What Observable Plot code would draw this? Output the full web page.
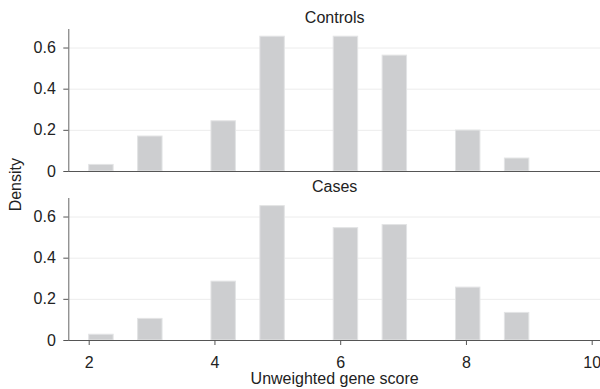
<!DOCTYPE html>
<html>
<head>
<meta charset="utf-8">
<script src="https://cdn.jsdelivr.net/npm/d3@7"></script>
<script src="https://cdn.jsdelivr.net/npm/@observablehq/plot@0.6"></script>
<style>
  html, body { margin: 0; padding: 0; background: #fff; }
  #chart { width: 600px; height: 389px; }
</style>
</head>
<body>
<div id="chart"></div>
<script>
// Data
const groups = ["Controls", "Cases"];
const scores = [2, 3, 4, 5, 6, 7, 8, 9];
const controlsDensity = [0.032, 0.170, 0.244, 0.655, 0.655, 0.563, 0.199, 0.063];
const casesDensity = [0.028, 0.105, 0.286, 0.653, 0.546, 0.561, 0.257, 0.134];
const xTicks = [2, 4, 6, 8, 10];
const yTicks = [0, 0.2, 0.4, 0.6];
const binStart = 2, binEnd = 9, binCount = 18;

const binWidth = (binEnd - binStart) / binCount;
const series = [controlsDensity, casesDensity];
const rows = groups.flatMap((g, gi) => scores.map((s, i) => {
  const k = Math.min(binCount - 1, Math.floor((s - binStart) / binWidth + 1e-9));
  const x1 = binStart + k * binWidth;
  return {group: g, score: s, density: series[gi][i], x1, x2: x1 + binWidth};
}));

const font = "Liberation Sans, Arial, Helvetica, sans-serif";

const svg = Plot.plot({
  width: 600,
  height: 389,
  marginTop: 28.7,
  marginBottom: 48.3,
  marginLeft: 68.3,
  marginRight: 0,
  style: {fontFamily: font, fontSize: "16px", color: "#222", background: "#fff"},
  x: {domain: [2, 10], range: [88.7, 591.7]},
  y: {domain: [0, 0.69]},
  fy: {domain: groups, paddingInner: 0.159, paddingOuter: 0, axis: null, label: null},
  marks: [
    Plot.gridY(yTicks.slice(1), {stroke: "#ececec", strokeOpacity: 1}),
    Plot.rectY(rows, {x1: "x1", x2: "x2", y: "density", fy: "group", fill: "#cdced0", stroke: "#e3e4e5", strokeWidth: 1}),
    Plot.ruleY([0], {stroke: "#555"}),
    Plot.frame({anchor: "left", stroke: "#666"}),
    Plot.axisY(yTicks, {
      tickSize: 5, tickPadding: 8, stroke: "#555", fill: "#222",
      tickFormat: d => d === 0 ? "0" : d.toFixed(1), label: null, fontSize: 16
    }),
    Plot.axisX(xTicks, {
      tickSize: 5, tickPadding: 11, stroke: "#555", fill: "#222", fontSize: 16,
      label: "Unweighted gene score", labelAnchor: "center", labelArrow: "none", labelOffset: 43
    }),
    Plot.text(groups, {fy: d => d, text: d => d, frameAnchor: "top", lineAnchor: "middle", dy: -11.2, fontSize: 16, fill: "#222"})
  ]
});

d3.select(svg).append("text")
  .attr("transform", "translate(16,184.7) rotate(-90)")
  .attr("text-anchor", "middle")
  .attr("dy", "0.32em")
  .attr("font-family", font)
  .attr("font-size", 16)
  .attr("fill", "#222")
  .text("Density");

document.getElementById("chart").appendChild(svg);
</script>
</body>
</html>
